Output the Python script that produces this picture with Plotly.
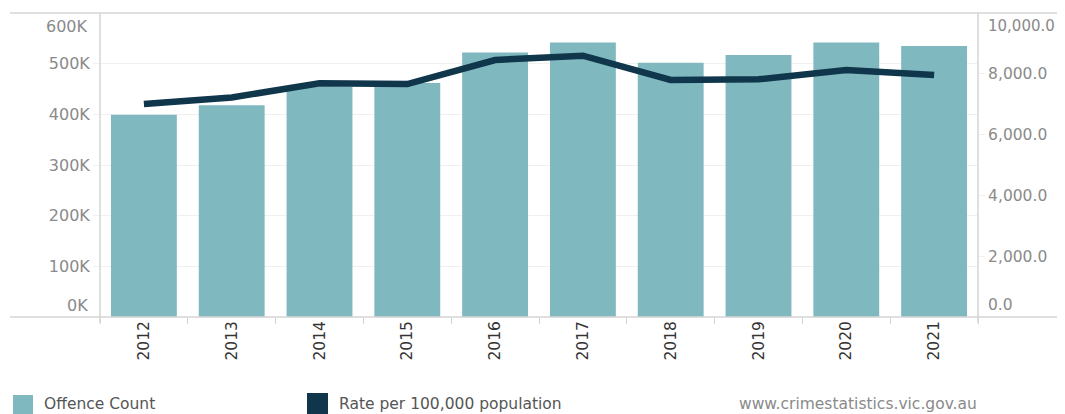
import plotly.graph_objects as go

years = ["2012", "2013", "2014", "2015", "2016", "2017", "2018", "2019", "2020", "2021"]
offence_count = [399000, 418000, 455000, 462000, 522000, 542000, 502000, 517000, 542000, 535000]
rate_per_100k = [7007, 7220, 7687, 7664, 8454, 8596, 7796, 7818, 8125, 7960]

left_ticks = [100000, 200000, 300000, 400000, 500000]
left_labels = ["100K", "200K", "300K", "400K", "500K"]
right_ticks = [2000, 4000, 6000, 8000]
right_labels = ["2,000.0", "4,000.0", "6,000.0", "8,000.0"]

BAR = "#7fb8bf"
LINE = "#0f364b"
AX = "#d4d4d4"
GRID = "#f0f0f0"
TICKC = "#8a8a8a"
FONT = "'DejaVu Sans', Arial, sans-serif"

# the page body adds an 8px offset; plot area lies at page x 100-978, y 13-317
W, H = 1057, 406
PW, PH = 878, 304

def px(x):
    return (x - 100) / PW

def py(y):
    return (317 - y) / PH

fig = go.Figure()
fig.add_trace(go.Bar(x=years, y=offence_count, marker=dict(color=BAR, line=dict(width=0)),
                     name="Offence Count", yaxis="y"))
fig.add_trace(go.Scatter(x=years, y=rate_per_100k, mode="lines",
                         line=dict(color=LINE, width=6.5), name="Rate per 100,000 population",
                         yaxis="y2"))

fig.update_layout(
    width=W, height=H,
    margin=dict(l=92, r=W - 92 - PW, t=5, b=H - 5 - PH, pad=0),
    paper_bgcolor="white", plot_bgcolor="white",
    showlegend=False, bargap=0.25,
    font=dict(family=FONT, color=TICKC, size=15),
    xaxis=dict(type="category", tickangle=-90, ticks="outside", tickson="boundaries",
               ticklen=6, tickcolor=AX, showline=False, showgrid=False,
               tickfont=dict(size=15.5, color="#333333")),
    yaxis=dict(range=[0, 600000], tickvals=left_ticks, ticktext=left_labels,
               showgrid=True, gridcolor=GRID, gridwidth=1, zeroline=False,
               ticks="outside", ticklen=6, tickcolor=GRID, showline=False,
               tickfont=dict(size=16, color=TICKC)),
    yaxis2=dict(range=[0, 10000], overlaying="y", side="right", tickvals=right_ticks,
                ticktext=right_labels, showgrid=False, zeroline=False,
                ticks="outside", ticklen=6, tickcolor=GRID, showline=False,
                tickfont=dict(size=15.5, color=TICKC)),
)

shapes = [
    dict(type="line", xref="paper", yref="paper", x0=px(10), x1=px(1070), y0=1, y1=1, line=dict(color=AX, width=1.5)),
    dict(type="line", xref="paper", yref="paper", x0=px(10), x1=px(1070), y0=0, y1=0, line=dict(color=AX, width=1.5)),
    dict(type="line", xref="paper", yref="paper", x0=0, x1=0, y0=py(323), y1=1, line=dict(color=AX, width=1.5)),
    dict(type="line", xref="paper", yref="paper", x0=1, x1=1, y0=py(323), y1=1, line=dict(color=AX, width=1.5)),
    dict(type="rect", xref="paper", yref="paper", x0=px(13), x1=px(33),
         y0=py(414), y1=py(395), fillcolor=BAR, line=dict(width=0)),
    dict(type="rect", xref="paper", yref="paper", x0=px(307), x1=px(328),
         y0=py(414), y1=py(393), fillcolor=LINE, line=dict(width=0)),
]
fig.update_layout(shapes=shapes)

ann = [
    dict(text="0K", xref="paper", yref="y", x=0, y=0, xanchor="right", yanchor="middle", xshift=-10, yshift=12,
         showarrow=False, font=dict(size=16, color=TICKC)),
    dict(text="600K", xref="paper", yref="y", x=0, y=600000, xanchor="right", yanchor="middle", xshift=-10, yshift=-13,
         showarrow=False, font=dict(size=16, color=TICKC)),
    dict(text="0.0", xref="paper", yref="y2", x=1, y=0, xanchor="left", yanchor="middle", xshift=8, yshift=12,
         showarrow=False, font=dict(size=15.5, color=TICKC)),
    dict(text="10,000.0", xref="paper", yref="y2", x=1, y=10000, xanchor="left", yanchor="middle", xshift=8, yshift=-13,
         showarrow=False, font=dict(size=15, color=TICKC)),
    dict(text="Offence Count", xref="paper", yref="paper", x=px(42), y=py(404),
         xanchor="left", yanchor="middle", showarrow=False, font=dict(size=15.5, color="#555555")),
    dict(text="Rate per 100,000 population", xref="paper", yref="paper", x=px(337), y=py(404),
         xanchor="left", yanchor="middle", showarrow=False, font=dict(size=15.5, color="#555555")),
    dict(text="www.crimestatistics.vic.gov.au", xref="paper", yref="paper", x=px(737), y=py(404),
         xanchor="left", yanchor="middle", showarrow=False, font=dict(size=15.5, color="#8a8a8a")),
]
fig.update_layout(annotations=ann)

fig.write_html("out.html")
